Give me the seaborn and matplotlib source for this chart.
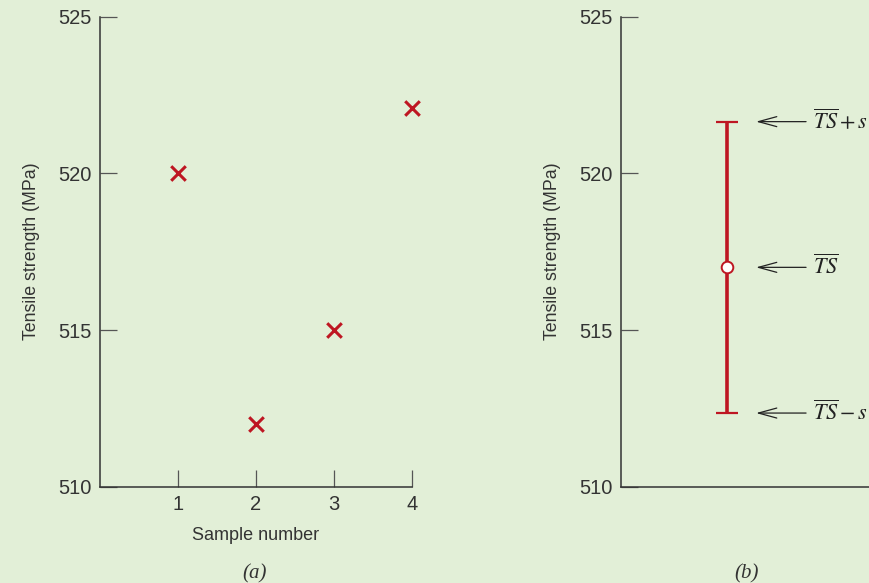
import matplotlib
matplotlib.use("Agg")
import matplotlib.pyplot as plt
import numpy as np
import pandas as pd
import seaborn as sns

# values
sample_number = [1, 2, 3, 4]
tensile_mpa = [520.0, 512.0, 515.0, 522.1]
ts_mean = 517.0
ts_sd = 4.65
y_ticks = [510, 515, 520, 525]
x_ticks = [1, 2, 3, 4]
arrow_labels = [r"$\overline{TS}\,{+}\,s$", r"$\overline{TS}$",
                r"$\overline{TS}\,{-}\,s$"]

BG = "#E2EFD7"
RED = "#BE1622"
INK = "#333333"

sns.set_theme(style="ticks", rc={
    "figure.facecolor": BG,
    "axes.facecolor": BG,
    "axes.edgecolor": INK,
    "axes.linewidth": 1.1,
    "xtick.color": "#555555",
    "ytick.color": "#555555",
    "xtick.labelcolor": INK,
    "ytick.labelcolor": INK,
    "text.color": INK,
    "axes.labelcolor": INK,
    "mathtext.fontset": "stix",
})
plt.rcParams["font.family"] = ["Liberation Sans", "DejaVu Sans"]

fig = plt.figure(figsize=(8.69, 5.83), dpi=100)


def style_axis(ax):
    ax.set_ylim(510, 525)
    ax.set_yticks(y_ticks)
    ax.set_xlim(0, 4)
    sns.despine(ax=ax)
    ax.tick_params(axis="both", direction="in", length=12, width=0.9,
                   labelsize=14.5, pad=6)
    ax.set_ylabel("Tensile strength (MPa)", fontsize=12.8, labelpad=13)


# (a) individual samples
ax1 = fig.add_axes([0.1145, 0.1652, 0.3596, 0.8062])
df = pd.DataFrame({"sample": sample_number, "ts": tensile_mpa})
sns.scatterplot(data=df, x="sample", y="ts", marker="x", s=110,
                color=RED, linewidth=2.2, ax=ax1, clip_on=False, zorder=3)
style_axis(ax1)
ax1.set_xticks(x_ticks)
ax1.set_xlabel("Sample number", fontsize=13, labelpad=9)

# (b) mean and standard deviation
ax2 = fig.add_axes([0.7146, 0.1652, 0.3596, 0.8062])
style_axis(ax2)
ax2.set_xticks([])
ax2.set_xlabel("")
bar_x = 1.353
ax2.errorbar([bar_x], [ts_mean], yerr=[ts_sd], fmt="none", ecolor=RED,
             elinewidth=2.6, capsize=8, capthick=1.6, zorder=2)
sns.scatterplot(x=[bar_x], y=[ts_mean], ax=ax2, s=70, marker="o",
                color="white", edgecolor=RED, linewidth=1.4, zorder=3)

for lab, yv in zip(arrow_labels, [ts_mean + ts_sd, ts_mean, ts_mean - ts_sd]):
    ax2.annotate("", xy=(1.729, yv), xytext=(2.369, yv),
                 arrowprops=dict(arrowstyle="->,head_length=1.1,head_width=0.3",
                                 lw=0.9, color="#222222", shrinkA=0, shrinkB=0))
    ax2.text(2.455, yv, lab, fontsize=16, va="center", ha="left",
             color="#222222")

fig.text(255 / 869, 1 - 574 / 583, "(a)", family="Liberation Serif",
         style="italic", fontsize=15, ha="center", va="center")
fig.text(747 / 869, 1 - 574 / 583, "(b)", family="Liberation Serif",
         style="italic", fontsize=15, ha="center", va="center")

fig.savefig("out.png", dpi=100, facecolor=BG)
